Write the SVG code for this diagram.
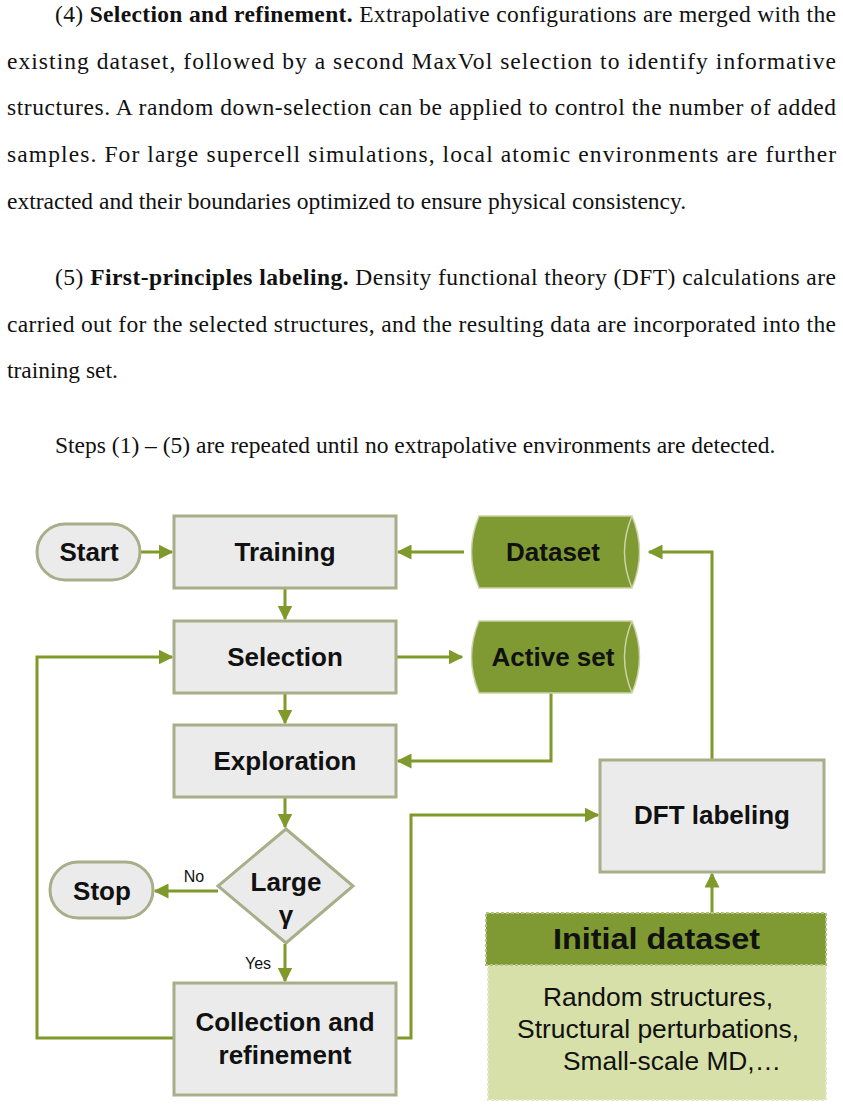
<svg xmlns="http://www.w3.org/2000/svg" width="843" height="1111" viewBox="0 0 843 1111">
<style>
.p{font-family:"Liberation Serif","Times New Roman",serif;font-size:23.5px;fill:#111}
.b{font-weight:bold}
.n{font-family:"Liberation Sans",Arial,sans-serif;font-weight:bold;font-size:26px;fill:#111;text-anchor:middle}
.box{fill:#ebebeb;stroke:#a7ae88;stroke-width:3}
.cyl{fill:#7f9a32;stroke:#ccd3a8;stroke-width:1.5}
.c{fill:none;stroke:#7f9a2a;stroke-width:3}
.lbl{font-family:"Liberation Sans",Arial,sans-serif;font-size:16px;fill:#111}
.s{font-family:"Liberation Sans",Arial,sans-serif;font-size:25px;fill:#111;text-anchor:middle}
</style>
<defs>
<marker id="a" viewBox="0 0 10 10" refX="9" refY="5" markerWidth="5" markerHeight="5" orient="auto"><path d="M0,0L10,5L0,10z" fill="#7f9a2a"/></marker>
</defs>
<g id="text">
<text class="p" x="55" y="22" textLength="781" lengthAdjust="spacing">(4) <tspan class="b">Selection and refinement.</tspan> Extrapolative configurations are merged with the</text>
<text class="p" x="7" y="69" textLength="829" lengthAdjust="spacing">existing dataset, followed by a second MaxVol selection to identify informative</text>
<text class="p" x="7" y="115" textLength="829" lengthAdjust="spacing">structures. A random down-selection can be applied to control the number of added</text>
<text class="p" x="7" y="162" textLength="829" lengthAdjust="spacing">samples. For large supercell simulations, local atomic environments are further</text>
<text class="p" x="7" y="209">extracted and their boundaries optimized to ensure physical consistency.</text>
<text class="p" x="55" y="285" textLength="781" lengthAdjust="spacing">(5) <tspan class="b">First-principles labeling.</tspan> Density functional theory (DFT) calculations are</text>
<text class="p" x="7" y="332" textLength="829" lengthAdjust="spacing">carried out for the selected structures, and the resulting data are incorporated into the</text>
<text class="p" x="7" y="378">training set.</text>
<text class="p" x="55" y="453">Steps (1) – (5) are repeated until no extrapolative environments are detected.</text>
</g>
<g id="connectors">
<path class="c" d="M140,552H172" marker-end="url(#a)"/>
<path class="c" d="M464,552H398" marker-end="url(#a)"/>
<path class="c" d="M285,588V619" marker-end="url(#a)"/>
<path class="c" d="M396,657H462" marker-end="url(#a)"/>
<path class="c" d="M285,693V723" marker-end="url(#a)"/>
<path class="c" d="M551,693V761H398" marker-end="url(#a)"/>
<path class="c" d="M285,797V827" marker-end="url(#a)"/>
<path class="c" d="M218,891H155" marker-end="url(#a)"/>
<path class="c" d="M285,944V981" marker-end="url(#a)"/>
<path class="c" d="M174,1038H37V657H172" marker-end="url(#a)"/>
<path class="c" d="M396,1038H411V815H598" marker-end="url(#a)"/>
<path class="c" d="M712,760V552H649" marker-end="url(#a)"/>
<path class="c" d="M712,913V874" marker-end="url(#a)"/>
<text class="lbl" x="194" y="882" text-anchor="middle">No</text>
<text class="lbl" x="258" y="969" text-anchor="middle">Yes</text>
</g>
<g id="start"><rect class="box" x="37" y="524" width="103" height="56" rx="28"/><text class="n" x="89" y="561">Start</text></g>
<g id="training"><rect class="box" x="174" y="516" width="222" height="72"/><text class="n" x="285" y="561">Training</text></g>
<g id="selection"><rect class="box" x="174" y="621" width="222" height="72"/><text class="n" x="285" y="666">Selection</text></g>
<g id="exploration"><rect class="box" x="174" y="725" width="222" height="72"/><text class="n" x="285" y="770">Exploration</text></g>
<g id="large"><path class="box" d="M286,829L353,886L286,943L218,886z"/><text class="n" x="286" y="891">Large</text><text class="n" x="286" y="924">γ</text></g>
<g id="stop"><rect class="box" x="50" y="862" width="103" height="56" rx="28"/><text class="n" x="102" y="900">Stop</text></g>
<g id="collection"><rect class="box" x="174" y="983" width="222" height="112"/><text class="n" x="285" y="1031">Collection and</text><text class="n" x="285" y="1064">refinement</text></g>
<g id="dataset"><path class="cyl" d="M479,516H632Q647,552 632,588H479Q464,552 479,516z"/><path d="M632,516Q617,552 632,588" fill="none" stroke="#ccd3a8" stroke-width="1.5"/><text class="n" x="553" y="561">Dataset</text></g>
<g id="activeset"><path class="cyl" d="M479,621H632Q647,657 632,693H479Q464,657 479,621z"/><path d="M632,621Q617,657 632,693" fill="none" stroke="#ccd3a8" stroke-width="1.5"/><text class="n" x="553" y="666">Active set</text></g>
<g id="dft"><rect class="box" x="600" y="760" width="224" height="112"/><text class="n" x="712" y="824">DFT labeling</text></g>
<g id="initial">
<rect x="488" y="965" width="338" height="135" fill="#d6e0a8" stroke="#e3e8c8" stroke-width="2" stroke-dasharray="3,2"/>
<rect x="486" y="913" width="340" height="52" fill="#7f9a32" stroke="#b5c280" stroke-width="2" stroke-dasharray="3,2"/>
<text class="n" x="553" y="949" style="font-size:30px;text-anchor:start" textLength="207" lengthAdjust="spacingAndGlyphs">Initial dataset</text>
<text class="s" x="543" y="1006" style="text-anchor:start" textLength="230" lengthAdjust="spacingAndGlyphs">Random structures,</text>
<text class="s" x="517" y="1038" style="text-anchor:start" textLength="282" lengthAdjust="spacingAndGlyphs">Structural perturbations,</text>
<text class="s" x="563" y="1070" style="text-anchor:start" textLength="218" lengthAdjust="spacingAndGlyphs">Small-scale MD,…</text>
</g>
</svg>
